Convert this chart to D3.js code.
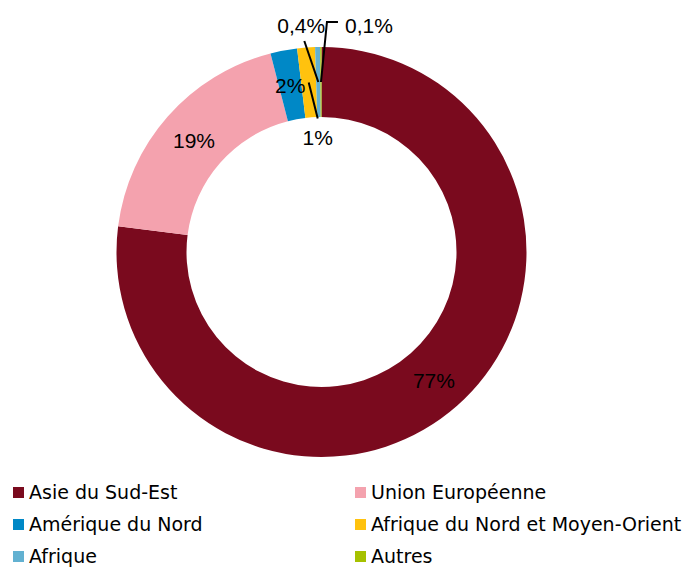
<!DOCTYPE html>
<html>
<head>
<meta charset="utf-8">
<script src="https://cdn.jsdelivr.net/npm/d3@7"></script>
<style>
  body { margin: 0; background: #fff; }
  svg { display: block; }
</style>
</head>
<body>
<svg id="chart" width="688" height="567"></svg>
<script>
// regions, clockwise from 12 o'clock
const regions = ["Asie du Sud-Est", "Union Européenne", "Amérique du Nord",
  "Afrique du Nord et Moyen-Orient", "Afrique", "Autres"];
const shares = [77.0, 19.0, 2.1, 1.4, 0.4, 0.1];
const shareLabels = ["77%", "19%", "2%", "1%", "0,4%", "0,1%"];
const colors = ["#7a0a1e", "#f4a2ae", "#0088c6", "#ffc20e", "#62b1d1", "#a6c100"];

const center = { x: 321.5, y: 252 };
const radius = { outer: 205, inner: 135 };

// label placement for the thin slices (offsets from the slice centroid)
const outside = {
  "Afrique du Nord et Moyen-Orient": { leader: [[9, 36]], text: [9, 63], anchor: "middle" },
  "Afrique": { leader: [[-14, -41]], text: [-17, -49], anchor: "middle" },
  "Autres": { leader: [[6, -60], [17, -60]], text: [24, -49], anchor: "start" }
};

const color = d3.scaleOrdinal().domain(regions).range(colors);

const data = regions.map((r, i) => ({ region: r, value: shares[i], label: shareLabels[i] }));

const svg = d3.select("#chart");

const g = svg.append("g")
  .attr("transform", `translate(${center.x},${center.y})`);

const pie = d3.pie().sort(null).value(d => d.value);
const arc = d3.arc().innerRadius(radius.inner).outerRadius(radius.outer);

const arcs = pie(data);

g.selectAll("path.slice")
  .data(arcs)
  .enter()
  .append("path")
  .attr("class", "slice")
  .attr("d", arc)
  .attr("fill", d => color(d.data.region));

/*
 * percentage labels
 */
const labelFont = "'Liberation Sans', Arial, sans-serif";
const labelSize = "21px";
const line = d3.line();

arcs.forEach(d => {
  const c = arc.centroid(d);
  const o = outside[d.data.region];

  if (o) {
    const pts = [c].concat(o.leader.map(p => [c[0] + p[0], c[1] + p[1]]));
    g.append("path")
      .attr("d", line(pts))
      .attr("fill", "none")
      .attr("stroke", "#000")
      .attr("stroke-width", 2);

    g.append("text")
      .attr("x", c[0] + o.text[0])
      .attr("y", c[1] + o.text[1])
      .attr("text-anchor", o.anchor)
      .style("font-family", labelFont)
      .style("font-size", labelSize)
      .attr("fill", "#000")
      .text(d.data.label);
  } else {
    g.append("text")
      .attr("x", c[0])
      .attr("y", c[1] + 8)
      .attr("text-anchor", "middle")
      .style("font-family", labelFont)
      .style("font-size", labelSize)
      .attr("fill", "#000")
      .text(d.data.label);
  }
});

/*
 * legend, two columns
 */
const legend = {
  x: [13, 355],
  y: 499,
  rowGap: 32,
  box: 11
};

const items = svg.append("g")
  .selectAll("g")
  .data(data)
  .enter()
  .append("g")
  .attr("transform", (d, i) =>
    `translate(${legend.x[i % 2]},${legend.y + Math.floor(i / 2) * legend.rowGap})`);

items.append("rect")
  .attr("x", 0)
  .attr("y", -12)
  .attr("width", legend.box)
  .attr("height", legend.box)
  .attr("fill", d => color(d.region));

items.append("text")
  .attr("x", legend.box + 5)
  .attr("y", 0)
  .style("font-family", "'DejaVu Sans', Verdana, sans-serif")
  .style("font-size", "19px")
  .attr("fill", "#000")
  .text(d => d.region);
</script>
</body>
</html>
